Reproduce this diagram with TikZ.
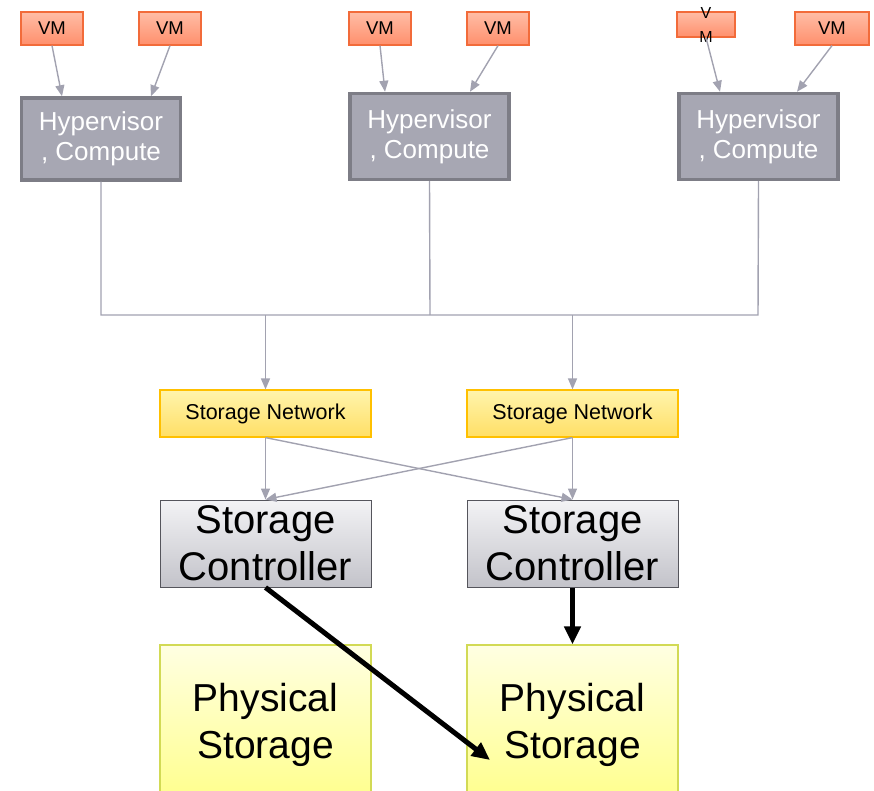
\documentclass[tikz,border=0pt]{standalone}
\usepackage{fontspec}
\setmainfont{Liberation Sans}
\usetikzlibrary{arrows.meta}
\definecolor{vmline}{HTML}{F26B3A}
\definecolor{vmtop}{HTML}{FFBDA6}
\definecolor{vmbot}{HTML}{FF8F6C}
\definecolor{hvfill}{HTML}{A7A7B3}
\definecolor{hvline}{HTML}{7D7D86}
\definecolor{snline}{HTML}{FFC000}
\definecolor{sntop}{HTML}{FFF4AC}
\definecolor{snbot}{HTML}{FFDF66}
\definecolor{scline}{HTML}{55555C}
\definecolor{sctop}{HTML}{F3F3F5}
\definecolor{scbot}{HTML}{C3C3CA}
\definecolor{psline}{HTML}{D2DA55}
\definecolor{pstop}{HTML}{FFFFE2}
\definecolor{psbot}{HTML}{FFFF8A}
\definecolor{wire}{HTML}{A2A2B0}
\begin{document}
\begin{tikzpicture}[x=1pt,y=-1pt,
  vmbox/.style={draw=vmline, line width=1.2pt, top color=vmtop, bottom color=vmbot, minimum width=62pt, minimum height=33pt, inner sep=0pt, font=\fontsize{18.5}{20}\selectfont},
  hvbox/.style={draw=hvline, line width=3.5pt, fill=hvfill, minimum width=159pt, minimum height=82pt, inner sep=0pt, align=center, text=white, font=\fontsize{26}{30}\selectfont},
  netbox/.style={draw=snline, line width=1.2pt, top color=sntop, bottom color=snbot, minimum width=211pt, minimum height=47pt, inner sep=0pt, font=\fontsize{21.5}{24}\selectfont},
  ctrlbox/.style={draw=scline, line width=1pt, top color=sctop, bottom color=scbot, minimum width=211pt, minimum height=87pt, inner sep=0pt, align=center, font=\fontsize{40}{47}\selectfont},
  diskbox/.style={draw=psline, line width=1.2pt, top color=pstop, bottom color=psbot, minimum width=211pt, minimum height=160pt, inner sep=0pt, align=center, font=\fontsize{39}{47}\selectfont},
  wirearrow/.style={draw=wire, line width=1.4pt, -{Triangle[length=11pt,width=9pt]}},
  wireline/.style={draw=wire, line width=1.4pt},
  bigarrow/.style={draw=black, line width=5pt, -{Triangle[length=18pt,width=16pt]}}]
\clip (0,0) rectangle (874,791);

\node[vmbox] (vm1) at (52,28.5) {VM};
\node[vmbox] (vm2) at (170,28.5) {VM};
\node[vmbox] (vm3) at (380,28.5) {VM};
\node[vmbox] (vm4) at (498,28.5) {VM};
\node[vmbox, minimum width=58pt, minimum height=25pt, label={[align=center, font=\fontsize{16}{24}\selectfont]center:V\\M}] (vm5) at (706,24.5) {};
\node[vmbox, minimum width=74pt] (vm6) at (832,28.5) {VM};

\node[hvbox] (hv1) at (101,139) {Hypervisor\\, Compute};
\node[hvbox, minimum height=86pt] (hv2) at (429.5,136.5) {Hypervisor\\, Compute};
\node[hvbox, minimum height=86pt] (hv3) at (758.5,136.5) {Hypervisor\\, Compute};

\node[netbox] (sn1) at (265.5,413.5) {Storage Network};
\node[netbox] (sn2) at (572.5,413.5) {Storage Network};

\node[ctrlbox] (sc1) at (265.5,543.5) {Storage\\Controller};
\node[ctrlbox] (sc2) at (572.5,543.5) {Storage\\Controller};

\node[diskbox] (ps1) at (265.5,725) {Physical\\Storage};
\node[diskbox] (ps2) at (572.5,725) {Physical\\Storage};

\coordinate (bus1) at (101,315);
\coordinate (bus2) at (430,315);
\coordinate (bus3) at (758,315);
\coordinate (tapl) at (265.5,315);
\coordinate (tapr) at (572.5,315);
\coordinate (hit) at (490,760);

\draw[wirearrow] (vm1.south) -- ([xshift=-39pt]hv1.north);
\draw[wirearrow] (vm2.south) -- ([xshift=50pt]hv1.north);
\draw[wirearrow] (vm3.south) -- ([xshift=-44.5pt]hv2.north);
\draw[wirearrow] (vm4.south) -- ([xshift=40.5pt]hv2.north);
\draw[wirearrow] (vm5.south) -- ([xshift=-38.5pt]hv3.north);
\draw[wirearrow] (vm6.south) -- ([xshift=38.5pt]hv3.north);

\draw[wireline] (hv1.south) -- (bus1) -- (bus3) -- (hv3.south);
\draw[wireline] (hv2.south) -- (bus2);
\draw[wirearrow] (tapl) -- (sn1.north);
\draw[wirearrow] (tapr) -- (sn2.north);

\draw[wirearrow] (sn1.south) -- (sc1.north);
\draw[wirearrow] (sn1.south) -- (sc2.north);
\draw[wirearrow] (sn2.south) -- (sc2.north);
\draw[wirearrow] (sn2.south) -- (sc1.north);

\draw[bigarrow] (sc1.south) -- (hit);
\draw[bigarrow] (sc2.south) -- (ps2.north);
\end{tikzpicture}
\end{document}
